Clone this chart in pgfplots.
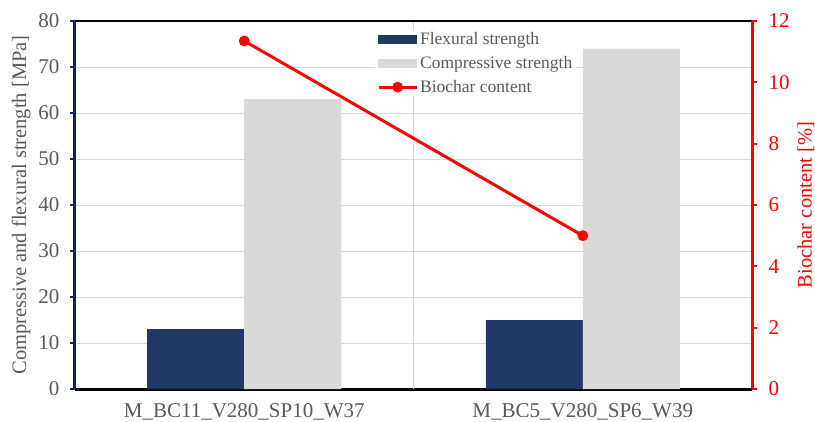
\documentclass[border=0pt]{standalone}
\usepackage{pgfplots}
\pgfplotsset{compat=1.18}
\usepackage{fontspec}
\setmainfont{Liberation Serif}
\definecolor{navy}{HTML}{203864}
\definecolor{navyaxis}{HTML}{0B2366}
\definecolor{lgray}{HTML}{D9D9D9}
\definecolor{txtgray}{HTML}{595959}
\definecolor{gridgray}{HTML}{D9D9D9}
\begin{document}
\begin{tikzpicture}
\useasboundingbox (-75pt,-32pt) rectangle (740pt,389pt);
\begin{axis}[
  at={(0pt,0pt)}, anchor=south west,
  scale only axis, width=677pt, height=368pt,
  xmin=-0.5, xmax=1.5, ymin=0, ymax=80,
  ybar=0pt, bar width=97pt,
  axis x line*=bottom, axis y line*=left,
  x axis line style={black, line width=3pt},
  y axis line style={navyaxis, line width=3pt},
  xtick={0,1}, xticklabels={M\_BC11\_V280\_SP10\_W37, M\_BC5\_V280\_SP6\_W39},
  x tick style={draw=none},
  extra x ticks={0.5}, extra x tick labels={},
  extra x tick style={grid=major, major tick length=0pt, major grid style={gridgray, line width=0.8pt}},
  ytick={0,10,...,80},
  y tick style={navyaxis, line width=2.2pt},
  tick align=outside, major tick length=5pt,
  ymajorgrids, major grid style={gridgray, line width=0.8pt},
  ticklabel style={font=\fontsize{21}{24}\selectfont, text=txtgray},
  xticklabel style={yshift=-6pt},
  yticklabel style={xshift=-7pt},
  ylabel={Compressive and flexural strength [MPa]},
  ylabel style={font=\fontsize{20.5}{24}\selectfont, text=txtgray, yshift=1pt},
  /pgf/number format/assume math mode=true,
  clip=false,
]
\addplot[fill=navy, draw=none] coordinates {(0,13) (1,15)};
\addplot[fill=lgray, draw=none] coordinates {(0,63) (1,74)};
\end{axis}
\begin{axis}[
  at={(0pt,0pt)}, anchor=south west,
  scale only axis, width=677pt, height=368pt,
  xmin=-0.5, xmax=1.5, ymin=0, ymax=12,
  axis x line*=top, axis y line*=right,
  x axis line style={black, line width=1.8pt},
  y axis line style={red, line width=3pt},
  xtick=\empty,
  ytick={0,2,...,12},
  y tick style={red, line width=2.2pt},
  tick align=outside, major tick length=5pt,
  yticklabel style={font=\fontsize{21}{24}\selectfont, text=red, xshift=8pt},
  ylabel={Biochar content [\%]},
  ylabel style={font=\fontsize{20.5}{24}\selectfont, text=red, yshift=-1pt},
  /pgf/number format/assume math mode=true,
  legend style={at={(0.443,0.976)}, anchor=north west, draw=none, fill=white,
    font=\fontsize{17.5}{20}\selectfont, text=txtgray, row sep=6.5pt,
    inner xsep=2pt, inner ysep=0pt},
  legend cell align=left,
  clip=false,
]
\addlegendimage{legend image code/.code={\fill[navy] (0pt,-4pt) rectangle (38pt,4pt);}}
\addlegendentry{Flexural strength}
\addlegendimage{legend image code/.code={\fill[lgray] (0pt,-4pt) rectangle (38pt,4pt);}}
\addlegendentry{Compressive strength}
\addplot[red, line width=3pt, mark=*, mark size=3.8pt,
  legend image code/.code={\draw[red, line width=3pt] (0pt,0pt) -- (38pt,0pt); \fill[red] (19pt,0pt) circle (3.8pt);}]
  coordinates {(0,11.35) (1,5.0)};
\addlegendentry{Biochar content}
\end{axis}
\end{tikzpicture}
\end{document}
